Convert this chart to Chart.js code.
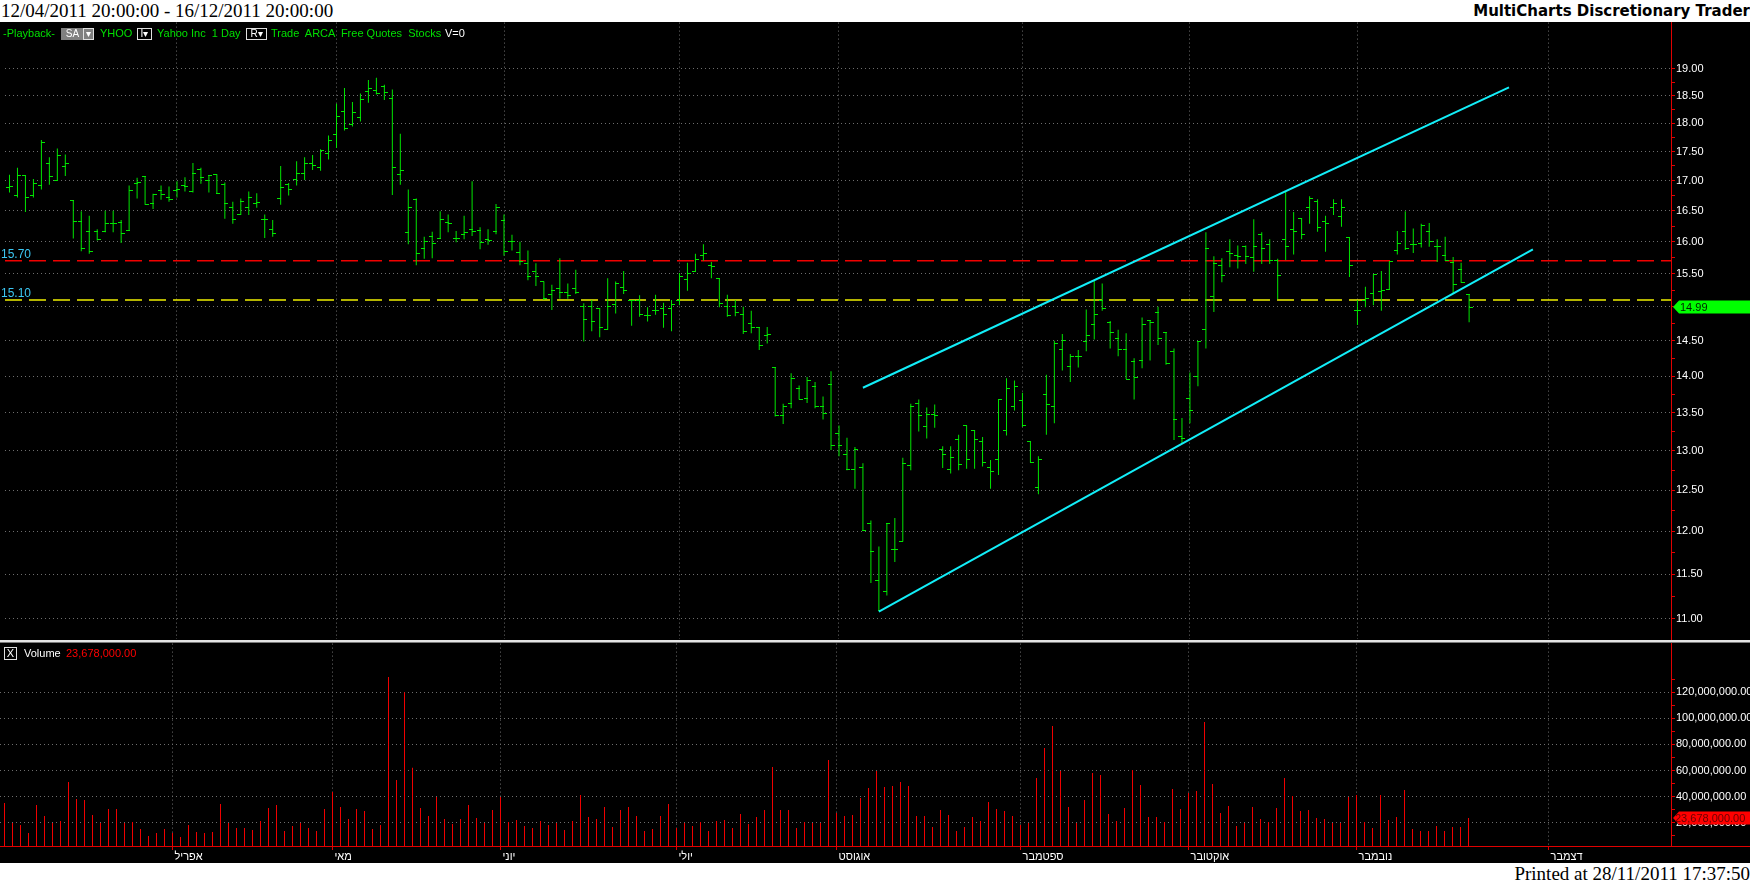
<!DOCTYPE html>
<html>
<head>
<meta charset="utf-8">
<title>YHOO - MultiCharts</title>
<script src="https://cdn.jsdelivr.net/npm/chart.js"></script>
<style>
  body { margin: 0; width: 1750px; height: 884px; background: #fff; position: relative; overflow: hidden; font-family: 'Liberation Sans', Arial, sans-serif; }
  #titleL { position: absolute; left: 1px; top: 0; font: 19px/22px 'Liberation Serif', serif; color: #000; white-space: pre; }
  #titleR { position: absolute; right: 0; top: 0; font: bold 15px/22px 'DejaVu Sans', sans-serif; color: #000; white-space: pre; }
  #pane { position: absolute; left: 0; top: 22px; width: 1750px; height: 841px; background: #000; }
  canvas { position: absolute; left: 0; }
  #priceChart { top: 15px; }
  #volChart { top: 636px; }
  #sep { position: absolute; left: 0; top: 640px; width: 1750px; height: 2px; background: #e4e4e4; border-bottom: 1px solid #7a7a7a; }
  #foot { position: absolute; right: 0; top: 863px; font: 19px/21px 'Liberation Serif', serif; color: #000; white-space: pre; }
  .t { position: absolute; top: 27px; font-size: 11px; line-height: 13px; color: #00e000; white-space: pre; }
  .w { color: #fff; }
  .bx { position: absolute; top: 28px; height: 10px; border: 1px solid #e0e0e0; color: #fff; font-size: 10px; line-height: 10px; text-align: center; }
</style>
</head>
<body>
<div id="titleL">12/04/2011 20:00:00 - 16/12/2011 20:00:00</div>
<div id="titleR">MultiCharts Discretionary Trader</div>
<div id="pane"></div>
<canvas id="priceChart" width="1750" height="632"></canvas>
<div id="sep"></div>
<canvas id="volChart" width="1750" height="227"></canvas>

<div class="t" style="left:3px">-Playback-</div>
<div class="bx" style="left:61px;width:21px;background:#808080;border-color:#808080">SA</div>
<div class="bx" style="left:83px;width:9px;background:#808080">&#9662;</div>
<div class="t" style="left:100px">YHOO</div>
<div class="bx" style="left:137px;width:13px">I&#9662;</div>
<div class="t" style="left:157px">Yahoo Inc  1 Day</div>
<div class="bx" style="left:246px;width:19px">R&#9662;</div>
<div class="t" style="left:271px">Trade  ARCA  Free Quotes  Stocks</div>
<div class="t w" style="left:445px">V=0</div>

<div class="bx" style="left:4px;top:647px;width:11px;height:11px;line-height:11px;font-size:11px">X</div>
<div class="t w" style="left:24px;top:647px">Volume</div>
<div class="t" style="left:66px;top:647px;color:#ff0000">23,678,000.00</div>

<div id="foot">Printed at 28/11/2011 17:37:50</div>

<script>
// YHOO daily bars (prices)
const opens = [
  16.88, 16.75, 17.08, 16.75, 16.92, 17.30, 17.00, 17.24, 16.67, 16.33,
  16.16, 16.17, 16.17, 16.29, 16.31, 16.18, 16.95, 17.07, 16.62, 16.84,
  16.72, 16.84, 16.92, 16.82, 17.19, 17.01, 17.10, 16.93, 16.56, 16.44,
  16.56, 16.62, 16.35, 16.20, 16.70, 16.93, 17.02, 17.12, 17.30, 17.22,
  17.47, 17.79, 18.21, 17.98, 18.10, 18.58, 18.60, 18.66, 18.44, 17.11,
  16.14, 16.69, 15.90, 16.08, 16.05, 16.31, 16.05, 16.11, 16.19, 16.18,
  16.03, 16.17, 16.34, 16.00, 15.83, 15.66, 15.54, 15.38, 15.18, 15.27,
  15.21, 15.27, 15.01, 15.01, 14.98, 14.66, 15.03, 15.29, 15.09, 15.09,
  14.87, 14.95, 14.97, 14.98, 15.09, 15.41, 15.53, 15.78, 15.62, 15.43,
  15.01, 15.01, 14.88, 14.75, 14.69, 14.57, 14.12, 13.47, 13.63, 13.83,
  13.69, 13.86, 13.59, 13.89, 13.23, 12.95, 12.76, 12.79, 12.10, 11.43,
  11.30, 11.78, 11.88, 12.81, 13.63, 13.32, 13.48, 13.01, 12.76, 13.14,
  13.33, 13.27, 13.12, 12.79, 12.89, 13.27, 13.59, 13.66, 13.12, 12.53,
  13.75, 13.59, 14.37, 14.13, 14.27, 14.49, 14.74, 15.09, 14.76, 14.53,
  14.38, 14.20, 14.22, 14.79, 14.92, 14.62, 14.34, 13.19, 13.69, 14.00,
  14.66, 15.15, 15.63, 15.85, 15.78, 15.93, 15.75, 16.12, 15.95, 15.71,
  16.04, 16.20, 16.38, 16.56, 16.66, 16.33, 16.56, 16.40, 16.07, 14.95,
  15.10, 15.20, 15.23, 15.26, 15.86, 16.16, 15.95, 15.97, 16.16, 15.92,
  15.79, 15.68, 15.57, 15.18
];
const highs = [
  17.10, 17.22, 17.08, 17.03, 17.70, 17.40, 17.55, 17.45, 16.67, 16.49,
  16.42, 16.20, 16.50, 16.50, 16.35, 16.92, 17.05, 17.07, 16.78, 16.92,
  16.90, 16.99, 17.06, 17.30, 17.22, 17.09, 17.11, 16.97, 16.65, 16.70,
  16.82, 16.79, 16.44, 16.35, 17.25, 16.96, 17.33, 17.40, 17.44, 17.54,
  17.78, 18.35, 18.64, 18.38, 18.54, 18.79, 18.83, 18.70, 18.61, 17.81,
  16.85, 16.70, 16.08, 16.16, 16.49, 16.44, 16.17, 16.42, 16.99, 16.23,
  16.20, 16.61, 16.44, 16.11, 16.00, 15.86, 15.66, 15.38, 15.33, 15.74,
  15.35, 15.56, 15.05, 15.10, 14.98, 15.43, 15.38, 15.54, 15.09, 15.17,
  14.99, 15.18, 15.06, 15.10, 15.51, 15.67, 15.81, 15.96, 15.68, 15.43,
  15.18, 15.10, 15.00, 14.94, 14.69, 14.70, 14.12, 13.62, 14.04, 13.87,
  13.99, 13.92, 13.72, 14.07, 13.33, 13.17, 13.05, 12.84, 12.13, 11.82,
  12.10, 12.16, 12.91, 13.62, 13.68, 13.57, 13.61, 13.06, 13.06, 13.21,
  13.33, 13.27, 13.18, 12.88, 13.68, 13.97, 13.94, 13.77, 13.12, 12.93,
  14.02, 14.50, 14.60, 14.31, 14.37, 14.96, 15.40, 15.35, 14.79, 14.66,
  14.61, 14.25, 14.84, 14.80, 15.00, 14.62, 14.39, 13.43, 14.05, 14.49,
  16.15, 15.77, 15.74, 16.04, 15.94, 15.94, 16.36, 16.15, 16.04, 15.73,
  16.82, 16.48, 16.38, 16.74, 16.69, 16.42, 16.69, 16.69, 16.07, 15.10,
  15.30, 15.49, 15.54, 15.69, 16.17, 16.49, 16.21, 16.29, 16.30, 16.04,
  16.08, 15.76, 15.67, 15.18
];
const lows = [
  16.80, 16.72, 16.48, 16.72, 16.85, 16.93, 17.00, 17.08, 16.05, 15.85,
  15.81, 16.02, 16.15, 16.15, 15.98, 16.17, 16.70, 16.60, 16.53, 16.68,
  16.65, 16.72, 16.82, 16.80, 16.95, 16.80, 16.78, 16.37, 16.29, 16.43,
  16.43, 16.55, 16.06, 16.08, 16.60, 16.75, 16.92, 17.01, 17.18, 17.17,
  17.36, 17.56, 17.87, 17.94, 18.03, 18.37, 18.52, 18.42, 16.76, 16.93,
  15.96, 15.63, 15.73, 15.74, 16.05, 16.15, 15.99, 16.04, 16.09, 15.88,
  15.95, 16.12, 15.78, 15.86, 15.63, 15.40, 15.31, 15.10, 14.95, 15.12,
  15.12, 15.19, 14.49, 14.64, 14.55, 14.66, 14.90, 15.19, 14.72, 14.85,
  14.78, 14.88, 14.69, 14.64, 15.02, 15.24, 15.53, 15.70, 15.43, 14.99,
  14.85, 14.86, 14.60, 14.61, 14.37, 14.46, 13.45, 13.35, 13.56, 13.68,
  13.63, 13.56, 13.41, 13.01, 12.93, 12.75, 12.52, 12.01, 11.40, 11.09,
  11.26, 11.64, 11.88, 12.75, 13.25, 13.16, 13.30, 12.78, 12.71, 12.75,
  12.77, 12.77, 12.80, 12.52, 12.69, 13.20, 13.53, 13.31, 12.85, 12.45,
  13.21, 13.36, 14.08, 13.92, 14.12, 14.35, 14.52, 14.94, 14.39, 14.28,
  13.96, 13.68, 14.11, 14.22, 14.44, 14.16, 13.14, 13.09, 13.36, 13.86,
  14.39, 14.92, 15.37, 15.60, 15.58, 15.65, 15.53, 15.65, 15.65, 15.11,
  15.71, 15.80, 16.04, 16.29, 16.16, 15.84, 16.43, 16.24, 15.45, 14.73,
  14.99, 15.02, 14.94, 15.25, 15.80, 15.87, 15.82, 15.91, 15.92, 15.68,
  15.70, 15.20, 15.36, 14.77
];
const closes = [
  16.90, 17.08, 16.72, 16.95, 17.65, 17.07, 17.43, 17.30, 16.33, 15.90,
  15.85, 16.03, 16.29, 16.29, 16.13, 16.84, 16.97, 16.60, 16.76, 16.76,
  16.68, 16.86, 16.91, 17.12, 17.05, 17.09, 16.78, 16.62, 16.35, 16.65,
  16.72, 16.63, 16.35, 16.13, 16.89, 16.85, 17.12, 17.29, 17.26, 17.52,
  17.70, 18.12, 17.91, 18.20, 18.42, 18.63, 18.54, 18.55, 17.22, 17.17,
  16.55, 15.81, 16.00, 15.97, 16.35, 16.30, 16.05, 16.14, 16.16, 15.98,
  16.02, 16.55, 15.85, 16.00, 15.69, 15.45, 15.45, 15.12, 15.24, 15.21,
  15.17, 15.21, 14.81, 14.78, 14.70, 15.00, 15.35, 15.24, 15.09, 14.89,
  14.87, 14.95, 14.89, 15.04, 15.45, 15.50, 15.72, 15.81, 15.61, 15.05,
  14.87, 14.91, 14.63, 14.69, 14.44, 14.59, 13.46, 13.58, 13.97, 13.68,
  13.94, 13.58, 13.49, 13.07, 13.07, 12.76, 13.01, 12.01, 11.76, 11.09,
  12.10, 11.78, 12.84, 13.58, 13.46, 13.48, 13.46, 12.95, 12.91, 12.83,
  12.89, 13.14, 12.85, 12.73, 13.68, 13.83, 13.86, 13.33, 12.85, 12.89,
  13.61, 14.46, 14.51, 14.28, 14.27, 14.57, 14.89, 14.97, 14.62, 14.37,
  13.96, 13.98, 14.73, 14.76, 14.54, 14.18, 13.41, 13.16, 13.53, 14.49,
  15.90, 15.65, 15.47, 15.82, 15.76, 15.76, 15.93, 15.89, 15.70, 15.47,
  15.93, 16.16, 16.12, 16.70, 16.23, 16.30, 16.62, 16.56, 15.63, 14.95,
  15.12, 15.48, 15.24, 15.69, 15.97, 15.90, 15.95, 16.26, 16.00, 15.92,
  15.71, 15.34, 15.36, 14.99
];
// volume, millions of shares
const volumes = [
  35.2, 19.9, 18.4, 12.2, 33.7, 25.2, 19.9, 21.4, 51.3, 38.3,
  37.5, 26.0, 19.9, 30.6, 30.6, 19.9, 20.7, 15.3, 9.9, 12.2,
  15.3, 12.2, 9.2, 18.4, 13.0, 12.2, 13.0, 34.4, 19.9, 16.1,
  16.1, 14.5, 21.4, 31.4, 33.7, 13.8, 17.6, 19.9, 16.1, 13.8,
  30.6, 43.6, 32.1, 23.0, 30.6, 29.1, 15.3, 18.4, 131.6, 52.8,
  119.9, 62.2, 31.4, 25.2, 39.8, 23.0, 19.1, 23.0, 33.7, 23.7,
  19.9, 29.8, 39.8, 20.7, 22.2, 17.6, 16.1, 21.4, 18.4, 19.9,
  14.5, 21.4, 41.3, 24.5, 23.0, 32.1, 16.8, 29.8, 32.1, 25.2,
  13.8, 15.3, 25.2, 34.4, 16.1, 19.9, 17.6, 20.7, 13.8, 21.4,
  22.2, 16.1, 26.8, 19.1, 24.5, 29.8, 62.7, 29.8, 29.8, 16.1,
  20.7, 19.9, 19.9, 68.1, 27.5, 25.2, 26.0, 39.0, 46.7, 59.7,
  47.4, 48.2, 51.3, 48.2, 25.2, 25.2, 16.8, 29.8, 26.0, 13.8,
  16.8, 24.5, 21.4, 36.0, 30.6, 29.1, 25.2, 18.4, 19.9, 54.3,
  77.3, 94.1, 59.7, 32.1, 19.9, 37.5, 58.1, 56.6, 26.8, 21.4,
  31.4, 60.4, 49.0, 24.5, 24.5, 20.7, 45.9, 30.6, 42.8, 44.4,
  97.2, 49.7, 27.5, 32.9, 17.6, 19.9, 32.1, 23.0, 20.7, 31.4,
  54.3, 40.5, 29.1, 29.8, 23.7, 23.0, 19.9, 19.9, 39.8, 41.3,
  20.7, 16.1, 41.3, 22.2, 24.5, 45.1, 15.3, 13.8, 13.8, 17.6,
  13.8, 16.8, 16.8, 23.678
];

// first bar of each month (bar index) and the Hebrew month names
const monthStarts = [21, 41, 62, 84, 104, 127, 148, 169, 193];
const monthNames = ['אפריל', 'מאי', 'יוני', 'יולי', 'אוגוסט', 'ספטמבר', 'אוקטובר', 'נובמבר', 'דצמבר'];

const priceTicks = [11, 11.25, 11.5, 11.75, 12, 12.25, 12.5, 12.75, 13, 13.25, 13.5, 13.75,
  14, 14.25, 14.5, 14.75, 15, 15.25, 15.5, 15.75, 16, 16.25, 16.5, 16.75,
  17, 17.25, 17.5, 17.75, 18, 18.25, 18.5, 18.75, 19];
const volumeTicks = [10, 20, 30, 40, 50, 60, 70, 80, 90, 100, 110, 120, 130]; // millions

// drawn trend channel: [bar index, price]
const channelTop = [[107, 13.84], [188, 18.65]];
const channelBottom = [[109, 11.08], [191, 15.88]];
const levels = [15.70, 15.10];
const lastClose = 14.99;
const lastVolume = 23678000;

const GREEN = '#00e600', RED = '#e00000', GRID = '#6e6e6e', CYAN = '#12eef8';
const X_MIN = -0.5625, X_MAX = 208.3125;
const FONT = { family: "'Liberation Sans', Arial, sans-serif", size: 11 };
Chart.defaults.font.family = FONT.family;

// page placement of the two canvases, and how the axes sit on the page
const PRICE_TOP = 15, VOL_TOP = 636;
const priceAtPageY = py => 19 * Math.exp((68.7 - py) / 1006.8);   // log axis: 19.00 at y=68.7
const volAtPageY = py => (849 - py) / 1.307 * 1e6;                 // 0 at y=849, 20M per 26px

const idx = closes.map((c, i) => i);

// little open / close ticks used as point images
function tickImage(side) {
  const c = document.createElement('canvas');
  c.width = 9; c.height = 1;
  const g = c.getContext('2d');
  g.fillStyle = GREEN;
  if (side === 'open') g.fillRect(1, 0, 4, 1);
  else g.fillRect(4, 0, 4, 1);
  return c;
}

function monthAxis(showLabels) {
  return {
    type: 'linear', min: X_MIN, max: X_MAX, offset: false,
    afterBuildTicks: s => { s.ticks = monthStarts.map(v => ({ value: v })); },
    afterFit: s => { s.height = showLabels ? 17 : 0; s.paddingLeft = 0; s.paddingRight = 0; },
    grid: { offset: false, color: GRID, lineWidth: 1, drawTicks: showLabels, tickColor: RED, tickLength: 4, tickWidth: 1 },
    border: { display: showLabels, color: RED, width: 1, dash: [1, 3] },
    ticks: {
      display: showLabels, autoSkip: false, maxRotation: 0, minRotation: 0, align: 'start',
      labelOffset: 2, padding: 0, color: '#ffffff', font: FONT,
      callback: (v, i) => monthNames[i]
    }
  };
}

const smoothOff = {
  id: 'smoothOff',
  beforeDatasetsDraw(chart) { chart.ctx.imageSmoothingEnabled = false; }
};

function axisFlag(ctx, chart, py, fill, textColor, text, dx) {
  const x0 = chart.chartArea.right + 2;
  ctx.fillStyle = fill;
  ctx.beginPath();
  ctx.moveTo(x0, py);
  ctx.lineTo(x0 + 6, py - 6.5);
  ctx.lineTo(chart.width, py - 6.5);
  ctx.lineTo(chart.width, py + 6.5);
  ctx.lineTo(x0 + 6, py + 6.5);
  ctx.closePath();
  ctx.fill();
  ctx.fillStyle = textColor;
  ctx.font = "11px 'Liberation Sans', Arial";
  ctx.textBaseline = 'middle';
  ctx.fillText(text, x0 + dx, py + 0.5);
}

const priceMarks = {
  id: 'priceMarks',
  afterDraw(chart) {
    const { ctx, scales: { y } } = chart;
    ctx.save();
    axisFlag(ctx, chart, Math.round(y.getPixelForValue(lastClose)), '#00ff00', '#002000', lastClose.toFixed(2), 7);
    ctx.fillStyle = '#3cc8f4';
    ctx.font = "12px 'Liberation Sans', Arial";
    ctx.textBaseline = 'alphabetic';
    levels.forEach(v => ctx.fillText(v.toFixed(2), 1, Math.round(y.getPixelForValue(v)) - 3));
    ctx.restore();
  }
};

const volMarks = {
  id: 'volMarks',
  afterDraw(chart) {
    const { ctx, chartArea, scales: { y } } = chart;
    ctx.save();
    ctx.fillStyle = RED;
    ctx.fillRect(chartArea.right, Math.floor(chartArea.bottom), chart.width - chartArea.right, 1);
    axisFlag(ctx, chart, Math.round(y.getPixelForValue(lastVolume)), '#ff0000', '#6a0000',
      lastVolume.toLocaleString('en-US', { minimumFractionDigits: 2 }), 2);
    ctx.restore();
  }
};

const priceChart = new Chart(document.getElementById('priceChart'), {
  type: 'bar',
  data: {
    datasets: [
      { type: 'line', data: channelTop.map(p => ({ x: p[0], y: p[1] })), borderColor: CYAN, borderWidth: 2, pointRadius: 0, tension: 0 },
      { type: 'line', data: channelBottom.map(p => ({ x: p[0], y: p[1] })), borderColor: CYAN, borderWidth: 2, pointRadius: 0, tension: 0 },
      { type: 'scatter', data: idx.map(i => ({ x: i, y: opens[i] })), pointStyle: tickImage('open'), pointRadius: 3 },
      { type: 'scatter', data: idx.map(i => ({ x: i, y: closes[i] })), pointStyle: tickImage('close'), pointRadius: 3 },
      {
        type: 'bar', data: idx.map(i => ({ x: i, y: [lows[i], highs[i]] })),
        backgroundColor: GREEN, borderWidth: 0, barThickness: 1, inflateAmount: 0, minBarLength: 1
      },
      { type: 'line', data: [{ x: X_MIN, y: levels[0] }, { x: X_MAX, y: levels[0] }], borderColor: '#f00000', borderWidth: 1.5, borderDash: [17, 7], pointRadius: 0 },
      { type: 'line', data: [{ x: X_MIN, y: levels[1] }, { x: X_MAX, y: levels[1] }], borderColor: '#f0f000', borderWidth: 1.5, borderDash: [17, 7], pointRadius: 0 }
    ]
  },
  options: {
    responsive: false, animation: false, events: [], devicePixelRatio: 1,
    layout: { padding: 0 },
    plugins: { legend: { display: false }, tooltip: { enabled: false } },
    scales: {
      x: monthAxis(false),
      y: {
        type: 'logarithmic', position: 'right', min: 10.773, max: 19.902,
        afterBuildTicks: s => { s.ticks = priceTicks.map(v => ({ value: v })); },
        afterFit: s => { s.width = 79; },
        grid: { color: c => (c.tick && c.tick.value % 0.5 === 0) ? GRID : 'rgba(0,0,0,0)', tickColor: RED, tickLength: 4 },
        border: { color: RED, width: 1, dash: [1, 3] },
        ticks: { autoSkip: false, padding: 1, color: '#ffffff', font: FONT, callback: v => v % 0.5 === 0 ? v.toFixed(2) : '' }
      }
    }
  },
  plugins: [smoothOff, priceMarks]
});

const volChart = new Chart(document.getElementById('volChart'), {
  type: 'bar',
  data: {
    datasets: [{
      data: idx.map(i => ({ x: i, y: volumes[i] * 1e6 })),
      backgroundColor: '#f00000', borderWidth: 0, barThickness: 1, inflateAmount: 0
    }]
  },
  options: {
    responsive: false, animation: false, events: [], devicePixelRatio: 1,
    layout: { padding: 0 },
    plugins: { legend: { display: false }, tooltip: { enabled: false } },
    scales: {
      x: monthAxis(true),
      y: {
        type: 'linear', position: 'right', min: -2.3e6, max: 157.6e6,
        afterBuildTicks: s => { s.ticks = volumeTicks.map(v => ({ value: v * 1e6 })); },
        afterFit: s => { s.width = 79; },
        grid: { color: c => (c.tick && c.tick.value % 20e6 === 0) ? GRID : 'rgba(0,0,0,0)', tickColor: RED, tickLength: 4 },
        border: { color: RED, width: 1, dash: [1, 3] },
        ticks: {
          autoSkip: false, padding: 1, color: '#ffffff', font: FONT,
          callback: v => v % 20e6 === 0 ? v.toLocaleString('en-US', { minimumFractionDigits: 2 }) : ''
        }
      }
    }
  },
  plugins: [volMarks]
});

// second pass: set the value range from the plot area the layout actually gave
const pa = priceChart.chartArea;
priceChart.options.scales.y.max = priceAtPageY(PRICE_TOP + pa.top);
priceChart.options.scales.y.min = priceAtPageY(PRICE_TOP + pa.bottom);
priceChart.update();

const va = volChart.chartArea;
volChart.options.scales.y.max = volAtPageY(VOL_TOP + va.top);
volChart.options.scales.y.min = volAtPageY(VOL_TOP + va.bottom);
volChart.update();
</script>
</body>
</html>
